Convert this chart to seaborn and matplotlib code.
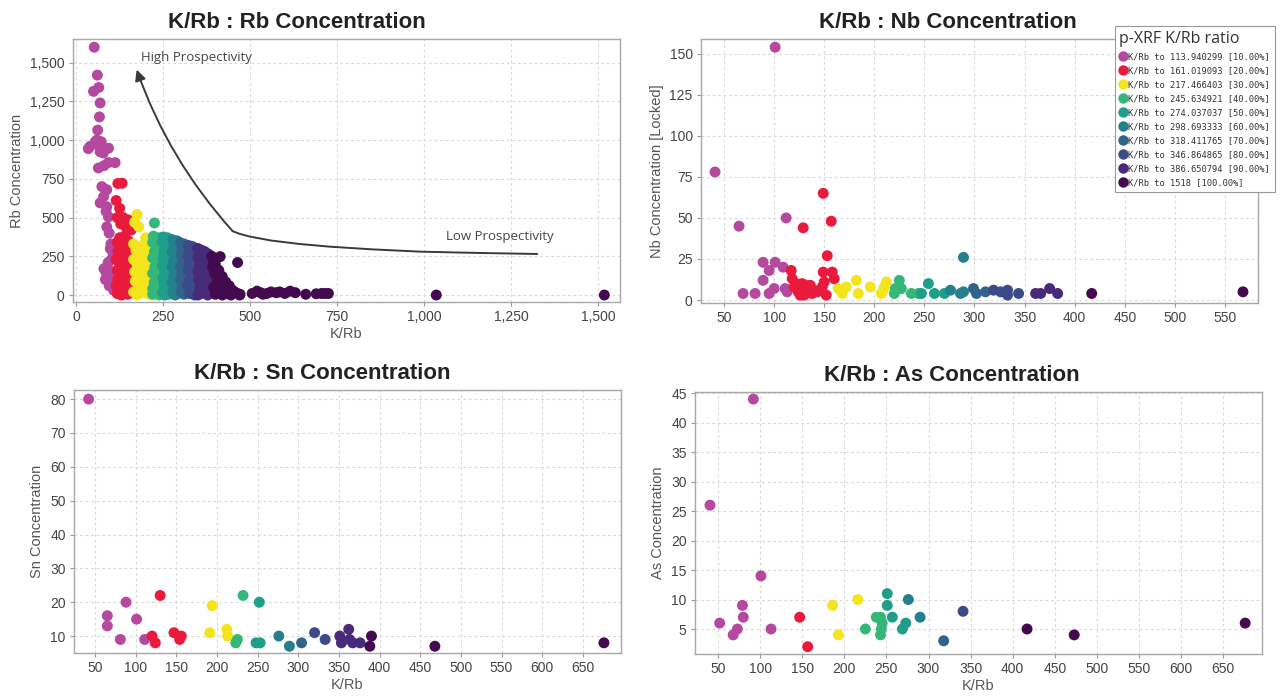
import numpy as np
import pandas as pd
import matplotlib
matplotlib.use("Agg")
import matplotlib.pyplot as plt
import seaborn as sns
from matplotlib.ticker import FuncFormatter, MultipleLocator
from matplotlib.lines import Line2D

# ---------------- classes (p-XRF K/Rb ratio deciles) ----------------
class_edges = [0, 113.940299, 161.019093, 217.466403, 245.634921, 274.037037,
               298.693333, 318.411765, 346.864865, 386.650794, 1518]
class_labels = [
    "K/Rb to 113.940299 [10.00%]",
    "K/Rb to 161.019093 [20.00%]",
    "K/Rb to 217.466403 [30.00%]",
    "K/Rb to 245.634921 [40.00%]",
    "K/Rb to 274.037037 [50.00%]",
    "K/Rb to 298.693333 [60.00%]",
    "K/Rb to 318.411765 [70.00%]",
    "K/Rb to 346.864865 [80.00%]",
    "K/Rb to 386.650794 [90.00%]",
    "K/Rb to 1518 [100.00%]",
]
class_colors = ["#B5489F", "#EA1A3C", "#F3E41E", "#35B779", "#1F9E89",
                "#25808D", "#31638C", "#3D4A8A", "#472A7A", "#430A50"]

# ---------------- panel 1: K/Rb vs Rb ----------------
rb_krb = [
    # 10 %
    52, 61, 50, 65, 69, 67, 62, 60, 72, 68, 55, 35, 40, 69, 93, 78, 64, 80, 93, 112,
    74, 88, 79, 69, 88, 86, 93, 88, 95, 100, 98, 106, 92, 90, 85, 104, 110, 100, 108,
    112, 88, 95, 80, 84, 102,
    # 20 %
    120, 132, 115, 125, 118, 135, 150, 128, 145, 158, 140, 125, 150, 118, 155, 130, 145,
    120, 160, 135, 115, 150, 125, 140, 118, 155, 130, 145, 120, 160, 135, 115, 150, 125,
    140, 118, 155, 130, 148,
    # 30 %
    175, 168, 180, 200, 210, 165, 190, 205, 172, 215, 183, 198, 165, 210, 175, 190, 215,
    168, 200, 182, 210, 170, 195, 215, 178, 165, 190, 205, 175, 215,
    # 40 %
    225, 222, 235, 243, 220, 230, 240, 225, 237, 220, 232, 244, 226, 238, 220, 233, 244,
    224, 236, 220, 242, 228, 238, 220,
    # 50 %
    250, 262, 272, 248, 258, 268, 252, 264, 250, 270, 258, 248, 266, 255, 272, 249, 262,
    252, 270, 258, 248, 266, 255,
    # 60 %
    278, 290, 296, 282, 292, 276, 288, 297, 280, 292, 276, 286, 296, 280, 290, 276, 295,
    284, 278, 292, 285,
    # 70 %
    300, 310, 316, 305, 314, 302, 312, 306, 316, 300, 310, 304, 316, 300, 312, 306, 316,
    302, 310,
    # 80 %
    322, 332, 342, 326, 338, 320, 334, 344, 326, 340, 322, 332, 344, 326, 338, 320, 334,
    344, 326, 340,
    # 90 %
    350, 360, 370, 380, 355, 365, 378, 350, 360, 372, 384, 355, 366, 380, 350, 362, 376,
    385, 352, 368, 382, 356, 372, 386, 360, 378, 350,
    # 100 %
    414, 464, 390, 395, 400, 392, 410, 398, 420, 405, 430, 415, 440, 395, 425, 450, 410,
    435, 460, 400, 445, 470, 420, 471, 506, 520, 530, 537, 548, 560, 575, 585, 600, 615,
    630, 660, 690, 705, 716, 725, 1035, 1518,
]
rb_conc = [
    # 10 %
    1600, 1420, 1315, 1340, 1240, 1150, 1065, 1000, 990, 960, 990, 945, 960, 925, 948,
    917, 820, 835, 855, 855, 700, 680, 635, 595, 570, 540, 505, 440, 400, 330, 300, 270,
    210, 180, 150, 120, 90, 60, 30, 250, 110, 60, 170, 100, 230,
    # 20 %
    720, 722, 610, 560, 500, 500, 485, 460, 430, 420, 380, 370, 350, 340, 320, 310, 290,
    280, 260, 250, 230, 220, 200, 180, 160, 160, 140, 120, 100, 90, 80, 60, 50, 40, 25,
    10, 15, 0, 5,
    # 30 %
    520, 470, 440, 370, 360, 330, 320, 300, 290, 280, 260, 240, 230, 220, 200, 180, 170,
    150, 140, 120, 100, 90, 70, 50, 40, 20, 15, 10, 0, 0,
    # 40 %
    465, 380, 370, 360, 340, 320, 300, 280, 260, 240, 220, 200, 180, 160, 140, 120, 100,
    80, 60, 40, 30, 15, 0, 5,
    # 50 %
    375, 370, 360, 340, 320, 300, 280, 260, 240, 230, 210, 190, 170, 150, 130, 110, 90,
    70, 50, 30, 15, 5, 0,
    # 60 %
    355, 350, 340, 320, 300, 280, 260, 240, 220, 200, 180, 160, 140, 120, 100, 80, 60,
    40, 20, 10, 0,
    # 70 %
    335, 330, 320, 300, 280, 260, 240, 220, 200, 180, 160, 140, 120, 100, 80, 60, 40,
    20, 5,
    # 80 %
    320, 315, 305, 290, 270, 250, 235, 220, 200, 180, 160, 140, 120, 100, 80, 60, 40,
    25, 10, 0,
    # 90 %
    300, 290, 280, 265, 270, 250, 230, 240, 220, 200, 185, 190, 170, 150, 150, 130, 110,
    90, 100, 80, 60, 50, 30, 20, 10, 0, 0,
    # 100 %
    248, 210, 250, 220, 200, 180, 160, 140, 120, 100, 85, 70, 60, 50, 40, 30, 20, 10,
    15, 5, 0, 0, 0, 5, 10, 25, 15, 5, 10, 20, 15, 20, 10, 25, 15, 5, 8, 10, 10, 10, 0, 0,
]

# prospectivity guide (annotation): flat part, then arrow up to the tip
guide_krb = [1325, 1150, 989, 850, 730, 640, 560, 500, 470, 450]
guide_rb = [265, 272, 280, 295, 312, 330, 352, 377, 395, 412]
guide_tip = (174, 1455)

# ---------------- panel 2: K/Rb vs Nb ----------------
nb_krb = [101, 41, 65, 112, 149, 129, 157, 153, 89, 101, 95, 109, 89, 100, 111, 113,
          69, 81, 95, 117, 118, 120, 124, 128, 130, 133, 136, 138, 140, 143, 126, 122,
          131, 149, 150, 152, 158, 160, 148, 164, 168, 172, 182, 184, 196, 207, 210, 212,
          209, 225, 221, 227, 220, 237, 244, 247, 254, 260, 270, 276, 289, 286, 289, 299,
          302, 311, 319, 326, 333, 333, 344, 361, 366, 375, 383, 417, 568]
nb_conc = [154, 78, 45, 50, 65, 44, 48, 27, 23, 23, 18, 20, 12, 7, 7, 5,
           4, 4, 4, 18, 13, 8, 5, 10, 3, 7, 9, 4, 6, 5, 3, 10,
           9, 17, 11, 3, 17, 13, 8, 7, 4, 8, 12, 4, 8, 4, 8, 11,
           6, 12, 7, 7, 4, 4, 4, 4, 10, 4, 4, 6, 26, 4, 5, 7,
           4, 5, 6, 5, 6, 3, 4, 4, 4, 7, 4, 4, 5]

# ---------------- panel 3: K/Rb vs Sn ----------------
sn_krb = [42, 88, 65, 65, 101, 81, 111, 130, 120, 124, 147, 156, 154, 194, 191, 212,
          213, 225, 223, 232, 252, 248, 253, 276, 289, 304, 320, 333, 351, 353, 362, 363,
          367, 376, 390, 388, 468, 676]
sn_conc = [80, 20, 16, 13, 15, 9, 9, 22, 10, 8, 11, 10, 9, 19, 11, 12,
           10, 9, 8, 22, 20, 8, 8, 10, 7, 8, 11, 9, 10, 8, 12, 9,
           8, 8, 10, 7, 7, 8]

# ---------------- panel 4: K/Rb vs As ----------------
as_krb = [92, 40.5, 101, 52, 79, 80, 73, 68, 113, 147, 156.5, 186, 193, 216, 225, 238,
          243, 243, 244, 245, 251, 251, 257, 269, 273, 276, 290, 318, 341, 417, 473, 676]
as_conc = [44, 26, 14, 6, 9, 7, 5, 4, 5, 7, 2, 9, 4, 10, 5, 7,
           7, 4, 5, 6, 11, 9, 7, 5, 6, 10, 7, 3, 8, 5, 4, 6]


def frame(x, y):
    df = pd.DataFrame({"krb": x, "val": y})
    df["cls"] = pd.cut(df["krb"], bins=class_edges, labels=class_labels,
                       include_lowest=True).astype(str)
    return df


palette = dict(zip(class_labels, class_colors))

sns.set_theme(style="white")
plt.rcParams["font.family"] = ["Liberation Sans", "DejaVu Sans"]

W, H = 1282, 697
fig = plt.figure(figsize=(W / 100, H / 100), dpi=100)


def add_ax(l, t, r, b):
    return fig.add_axes([l / W, 1 - b / H, (r - l) / W, (b - t) / H])


ax1 = add_ax(73, 39, 620, 302)
ax2 = add_ax(701, 39, 1258, 303)
ax3 = add_ax(74, 390, 621, 653)
ax4 = add_ax(695, 392, 1262, 654)

panels = [
    (ax1, frame(rb_krb, rb_conc), "K/Rb : Rb Concentration", "Rb Concentration", True,
     (-9, 1563), (-45, 1653), 250, 250, 0.41),
    (ax2, frame(nb_krb, nb_conc), "K/Rb : Nb Concentration", "Nb Concentration [Locked]",
     False, (27, 583), (-1.8, 159), 50, 25, 0.443),
    (ax3, frame(sn_krb, sn_conc), "K/Rb : Sn Concentration", "Sn Concentration", True,
     (24, 697), (5, 82.7), 50, 10, 0.453),
    (ax4, frame(as_krb, as_conc), "K/Rb : As Concentration", "As Concentration", True,
     (22.7, 696), (0.76, 45.2), 50, 5, 0.453),
]

comma = FuncFormatter(lambda v, p: f"{v:,.0f}")

for ax, df, title, ylab, xlab, xl, yl, xs, ys, tx in panels:
    sns.scatterplot(data=df, x="krb", y="val", hue="cls", hue_order=class_labels,
                    palette=palette, s=62, linewidth=0, alpha=1, legend=False, ax=ax,
                    zorder=3)
    ax.set_xlim(*xl)
    ax.set_ylim(*yl)
    ax.xaxis.set_major_locator(MultipleLocator(xs))
    ax.yaxis.set_major_locator(MultipleLocator(ys))
    ax.xaxis.set_major_formatter(comma)
    ax.yaxis.set_major_formatter(comma)
    ax.grid(True, color="#d9d9d9", linestyle=(0, (2.5, 2.5)), linewidth=0.8, zorder=0)
    ax.set_axisbelow(True)
    for sp in ax.spines.values():
        sp.set_color("#a8a8a8")
        sp.set_linewidth(1.0)
    ax.tick_params(axis="both", which="major", labelsize=10, labelcolor="#444444",
                   color="#999999", length=3, width=0.8, direction="out", bottom=True,
                   left=True, pad=3)
    ax.set_xlabel("K/Rb" if xlab else "", fontsize=10.5, color="#555555", labelpad=2)
    ax.set_ylabel(ylab, fontsize=10.5, color="#555555", labelpad=4)
    ax.set_title(title, fontsize=16, fontweight="bold", color="#222222", x=tx, pad=8)

# guide curve on the Rb panel
ax1.plot(guide_krb, guide_rb, color="#3a3a3a", lw=1.4, zorder=4,
         solid_capstyle="round", solid_joinstyle="round")
ax1.annotate("", xy=guide_tip, xytext=(guide_krb[-1], guide_rb[-1]),
             arrowprops=dict(arrowstyle="-|>", color="#3a3a3a", lw=1.4,
                             mutation_scale=16, shrinkA=0, shrinkB=0,
                             connectionstyle="arc3,rad=-0.1"), zorder=4)
ax1.text(186, 1532, "High Prospectivity", fontsize=9.5, color="#444444",
         ha="left", va="center", family=["Open Sans", "DejaVu Sans"])
ax1.text(1063, 375, "Low Prospectivity", fontsize=9.5, color="#444444",
         ha="left", va="center", family=["Open Sans", "DejaVu Sans"])

# legend
handles = [Line2D([0], [0], marker="o", linestyle="", markersize=7.5,
                  markerfacecolor=c, markeredgewidth=0) for c in class_colors]
leg = fig.legend(handles, class_labels, loc="upper right",
                 bbox_to_anchor=(1279 / W, 1 - 22 / H), frameon=True,
                 prop={"family": "DejaVu Sans Mono", "size": 6.3},
                 title="p-XRF K/Rb ratio", title_fontproperties={"family": "Open Sans",
                                                                  "size": 11.5},
                 handletextpad=0.1, handlelength=1.0, labelspacing=0.58,
                 borderpad=0.5, fancybox=False, alignment="left")
leg.get_frame().set_edgecolor("#999999")
leg.get_frame().set_linewidth(0.8)
leg.get_frame().set_facecolor("white")
leg.get_frame().set_alpha(1)
for t in leg.get_texts():
    t.set_color("#333333")
leg.get_title().set_color("#333333")

fig.savefig("out.png", dpi=100)
